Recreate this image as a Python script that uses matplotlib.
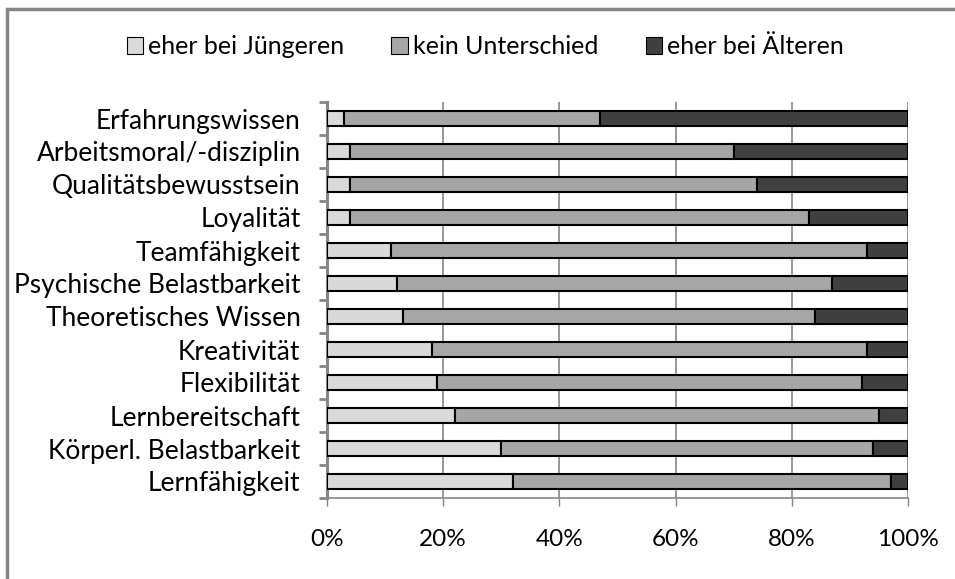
import matplotlib
matplotlib.use("Agg")
import matplotlib.pyplot as plt
from matplotlib.patches import Rectangle, Patch
from matplotlib.ticker import FixedLocator, PercentFormatter
import numpy as np

categories = ["Erfahrungswissen", "Arbeitsmoral/-disziplin", "Qualitätsbewusstsein",
              "Loyalität", "Teamfähigkeit", "Psychische Belastbarkeit",
              "Theoretisches Wissen", "Kreativität", "Flexibilität",
              "Lernbereitschaft", "Körperl. Belastbarkeit", "Lernfähigkeit"]
juengere = [3, 4, 4, 4, 11, 12, 13, 18, 19, 22, 30, 32]
kein = [44, 66, 70, 79, 82, 75, 71, 75, 73, 73, 64, 65]
aeltere = [53, 30, 26, 17, 7, 13, 16, 7, 8, 5, 6, 3]
series_names = ["eher bei Jüngeren", "kein Unterschied", "eher bei Älteren"]
colors = ["#D9D9D9", "#A6A6A6", "#404040"]
xticks = [0, 20, 40, 60, 80, 100]

plt.rcParams['font.family'] = ['Lato', 'DejaVu Sans']
FS = 19
FS_LEG = 18
FS_TICK = 17.5
GRAY = "#868686"

W, H = 955, 579
fig = plt.figure(figsize=(W / 100, H / 100), dpi=100)
fig.patches.append(Rectangle((7 / W, -0.05), 1.1, 1 - 9 / H + 0.05, transform=fig.transFigure,
                             fill=False, edgecolor=GRAY, linewidth=2.5, zorder=0))

ax = fig.add_axes([327 / W, 1 - 498 / H, 581 / W, 396 / H])
y = np.arange(len(categories))
left = np.zeros(len(categories))
for vals, name, col in zip([juengere, kein, aeltere], series_names, colors):
    ax.barh(y, vals, left=left, height=0.43, color=col, edgecolor="black",
            linewidth=1.5, label=name, zorder=3)
    left = left + np.array(vals)

ax.set_xlim(0, 100)
ax.set_ylim(len(categories) - 0.5, -0.5)
ax.set_xticks(xticks)
ax.xaxis.set_major_formatter(PercentFormatter(decimals=0))
ax.set_yticks(y)
ax.set_yticklabels(categories)
ax.yaxis.set_minor_locator(FixedLocator(np.arange(-0.5, len(categories), 1.0)))
ax.tick_params(axis='y', which='major', length=0, pad=19, labelsize=FS)
ax.tick_params(axis='y', which='minor', length=6, width=2, color=GRAY, direction='out')
ax.tick_params(axis='x', which='major', length=6, width=1, color=GRAY, direction='out',
               pad=16, labelsize=FS_TICK)
ax.grid(axis='x', color=GRAY, linewidth=1.2, zorder=0)
for s in ["top", "right"]:
    ax.spines[s].set_visible(False)
ax.spines["left"].set_color(GRAY)
ax.spines["left"].set_linewidth(2.2)
ax.spines["bottom"].set_color(GRAY)
ax.spines["bottom"].set_linewidth(1.2)
ax.set_axisbelow(True)

handles = [Patch(facecolor=c, edgecolor="black", linewidth=0.8) for c in colors]
fig.legend(handles, series_names, loc='center', bbox_to_anchor=(485 / W, 1 - 47 / H),
           ncol=3, frameon=False, fontsize=FS_LEG, handlelength=0.65, handleheight=0.65,
           handletextpad=0.2, columnspacing=1.9)

fig.savefig("out.png", dpi=100)
